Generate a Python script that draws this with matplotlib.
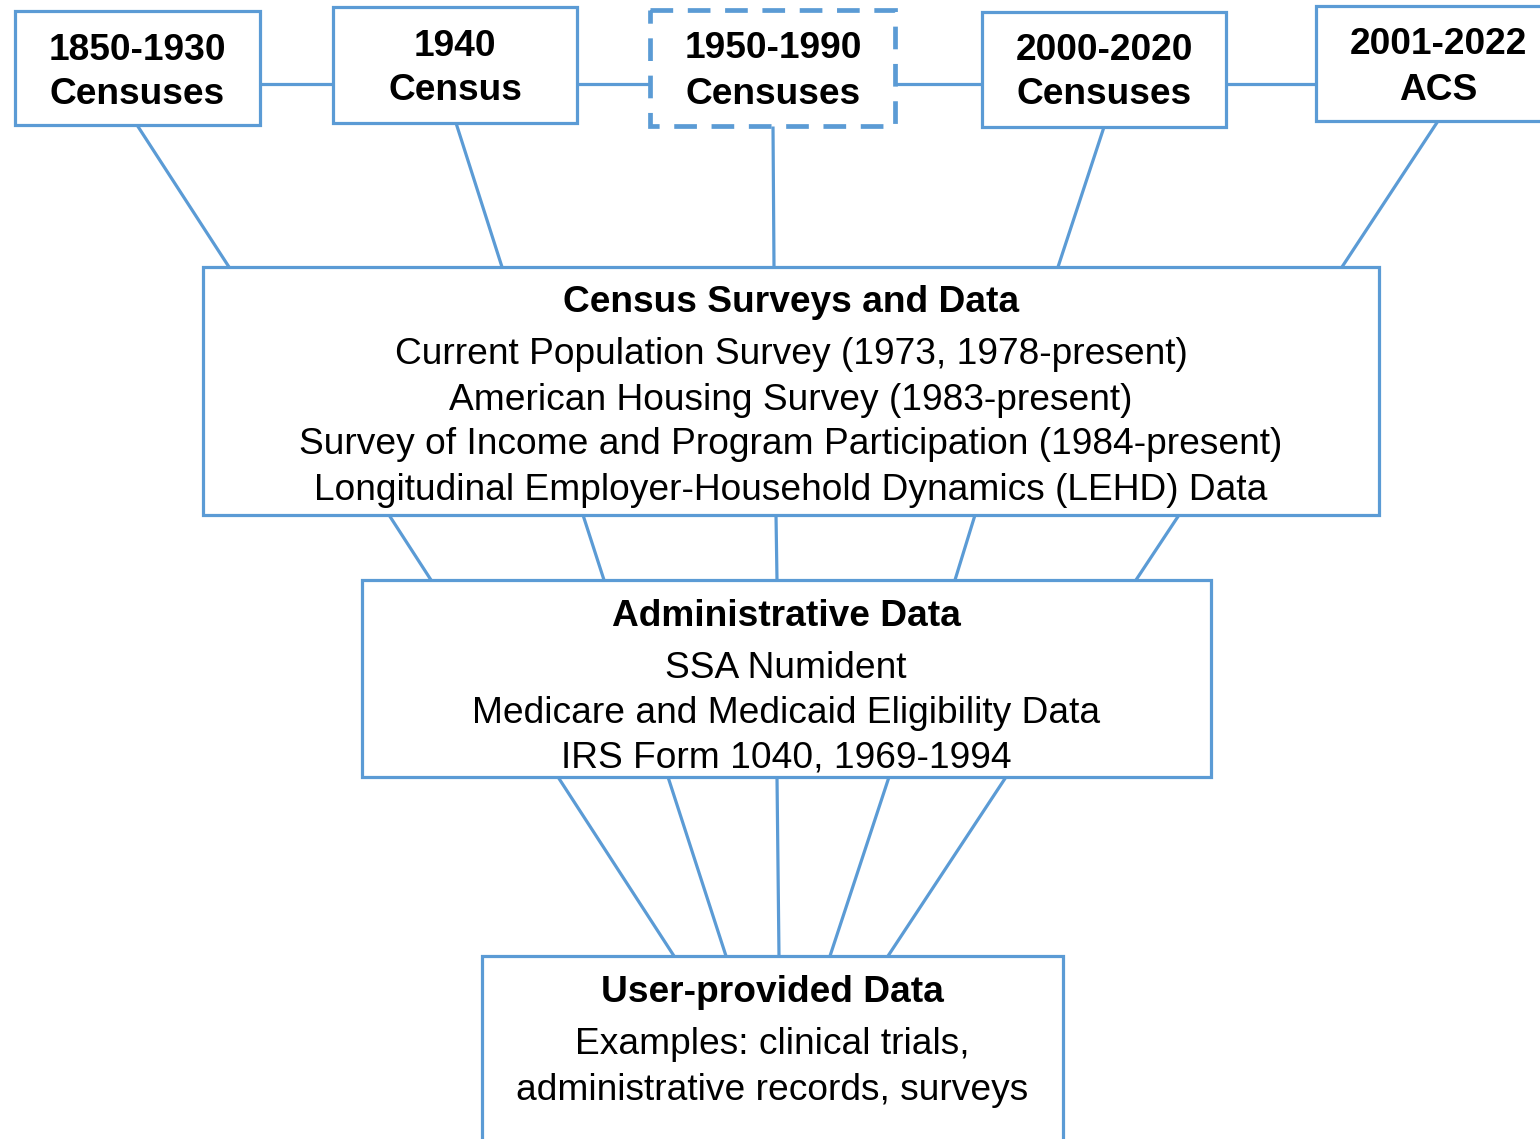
import matplotlib
matplotlib.use("Agg")
import matplotlib.pyplot as plt
from matplotlib.patches import Rectangle

plt.rcParams['font.family'] = ['Liberation Sans', 'DejaVu Sans']

# ---- content ----
top_titles = ["1850-1930\nCensuses", "1940\nCensus", "1950-1990\nCensuses",
              "2000-2020\nCensuses", "2001-2022\nACS"]
top_dashed = [False, False, True, False, False]

census_title = "Census Surveys and Data"
census_items = ["Current Population Survey (1973, 1978-present)",
                "American Housing Survey (1983-present)",
                "Survey of Income and Program Participation (1984-present)",
                "Longitudinal Employer-Household Dynamics (LEHD) Data"]

admin_title = "Administrative Data"
admin_items = ["SSA Numident",
               "Medicare and Medicaid Eligibility Data",
               "IRS Form 1040, 1969-1994"]

user_title = "User-provided Data"
user_items = ["Examples: clinical trials,", "administrative records, surveys"]

# ---- layout (pixel coordinates, y downward) ----
W, H = 1540, 1139
top_boxes = [(15, 11, 260, 125), (333, 7, 577, 123), (650, 10, 895, 126),
             (982, 12, 1226, 127), (1316, 6, 1545, 121)]
top_text_y = [(46, 90), (42, 87), (45, 90), (47, 91), (41, 86)]
top_text_x = [137, 455, 773, 1104, 1438]
census_box = (203, 267, 1379, 515)
admin_box = (362, 580, 1211, 777)
user_box = (482, 956, 1063, 1145)

top_links = [((137, 125), (229, 267)), ((456, 123), (502, 267)),
             ((773, 126), (774, 267)), ((1104, 127), (1058, 267)),
             ((1438, 121), (1342, 267))]
mid_links = [((389, 515), (431, 580)), ((583, 515), (604, 580)),
             ((776, 515), (777, 580)), ((975, 515), (955, 580)),
             ((1179, 515), (1136, 580))]
low_links = [((558, 777), (674, 956)), ((668, 777), (726, 956)),
             ((777, 777), (779, 956)), ((889, 777), (830, 956)),
             ((1006, 777), (888, 956))]

COL = "#5B9BD5"
LW = 2.3
DASH_LW = 3.4
TITLE_FS = 26.7
BODY_FS = 26.7

fig = plt.figure(figsize=(W / 100, H / 100), dpi=100)
ax = fig.add_axes([0, 0, 1, 1])
ax.set_xlim(0, W)
ax.set_ylim(H, 0)
ax.axis("off")


def box(b, dashed=False):
    x0, y0, x1, y1 = b
    r = Rectangle((x0, y0), x1 - x0, y1 - y0, fill=True, facecolor="white",
                  edgecolor=COL, linewidth=DASH_LW if dashed else LW, zorder=3)
    if dashed:
        r.set_linestyle((0, (4.8, 3.1)))
    ax.add_patch(r)


def link(p, q):
    ax.plot([p[0], q[0]], [p[1], q[1]], color=COL, lw=LW, zorder=1,
            solid_capstyle="butt")


# horizontal connector between top boxes
for i in range(len(top_boxes) - 1):
    a = top_boxes[i]
    b = top_boxes[i + 1]
    link((a[2], 84), (b[0], 84))

for p, q in top_links + mid_links + low_links:
    link(p, q)

for b, d in zip(top_boxes, top_dashed):
    box(b, d)
for b in (census_box, admin_box, user_box):
    box(b)

for t, x, ys in zip(top_titles, top_text_x, top_text_y):
    l1, l2 = t.split("\n")
    ax.text(x, ys[0], l1, ha="center", va="center_baseline", fontsize=TITLE_FS,
            fontweight="bold", zorder=5)
    ax.text(x, ys[1], l2, ha="center", va="center_baseline", fontsize=TITLE_FS,
            fontweight="bold", zorder=5)


def block(cx, ty, title, items, y0, step):
    ax.text(cx, ty, title, ha="center", va="center_baseline", fontsize=TITLE_FS,
            fontweight="bold", zorder=5)
    for i, s in enumerate(items):
        ax.text(cx, y0 + i * step, s, ha="center", va="center_baseline",
                fontsize=BODY_FS, zorder=5)


block(791, 298, census_title, census_items, 351, 45)
block(786, 612, admin_title, admin_items, 665, 44.5)
block(772, 988, user_title, user_items, 1041, 45)

fig.savefig("out.png", dpi=100)
